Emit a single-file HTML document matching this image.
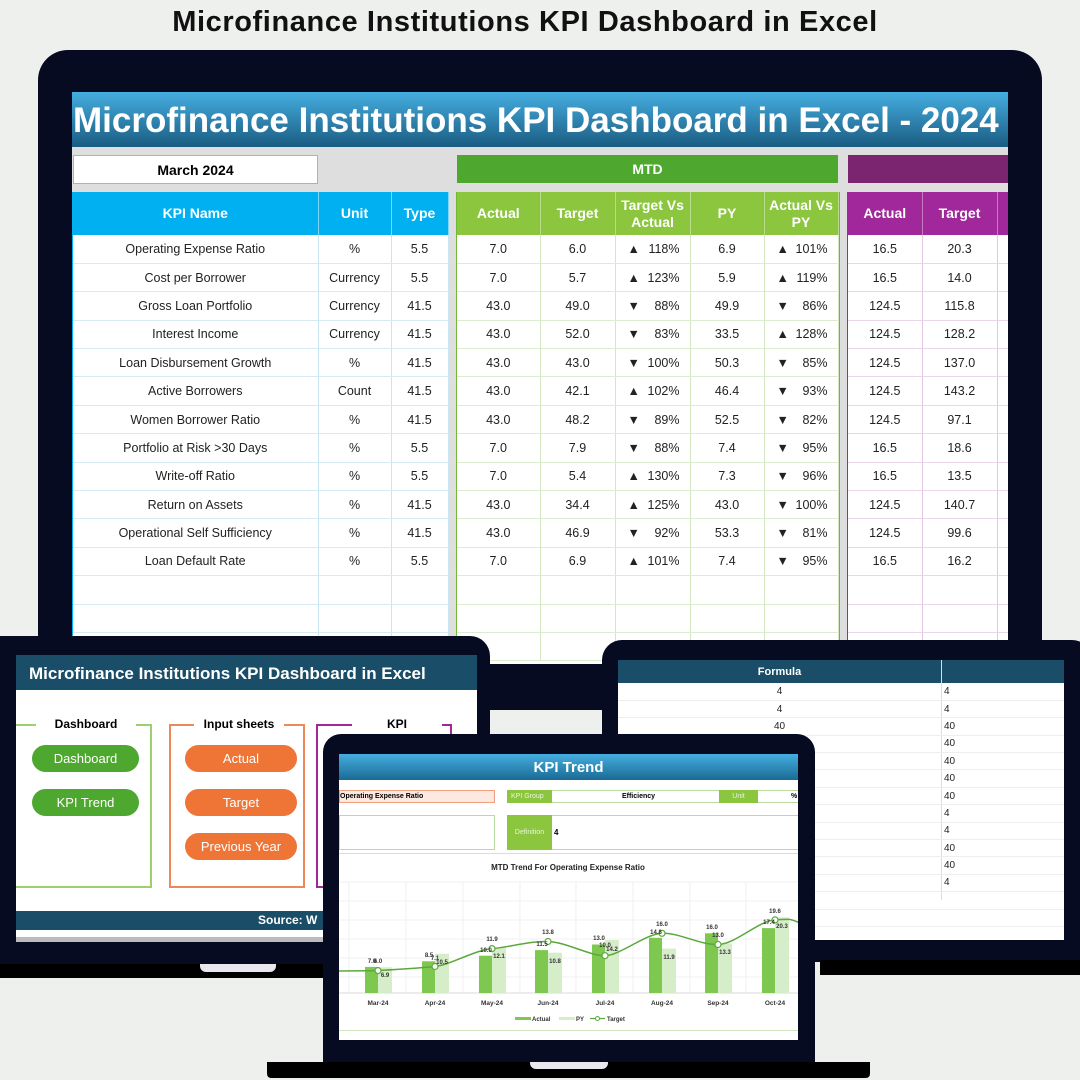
<!DOCTYPE html>
<html><head><meta charset="utf-8">
<style>
*{box-sizing:border-box;margin:0;padding:0}
body{width:1080px;height:1080px;overflow:hidden;background:#eef0ee;font-family:"Liberation Sans",sans-serif;position:relative}
.a{position:absolute}
.c{display:flex;align-items:center;justify-content:center;text-align:center}
.tb{position:absolute;border-collapse:collapse;table-layout:fixed;font-size:12.5px;color:#222}
.tb td{height:28.4px;text-align:center;padding:0;white-space:nowrap}
.tb th{height:43px;color:#fff;font-weight:bold;font-size:14px;line-height:17px}
.blue td{border-right:1px solid #c8e6f2;border-bottom:1px solid #d6ecf5}
.blue th{background:#00b0f0;border-right:1px solid #7fd6f6}
.green td{border-right:1px solid #d2e8c0;border-bottom:1px solid #dcecd0}
.green th{background:#8cc63f;border-right:1px solid #b9dc8c}
.purp td{border-right:1px solid #e4c8e2;border-bottom:1px solid #ead6e8}
.purp th{background:#a0289a;border-right:1px solid #c77cc2}
.ar{display:flex;justify-content:space-between;padding:0 10px 0 12px}
.pill{position:absolute;border-radius:14px;color:#fff;font-size:13px;display:flex;align-items:center;justify-content:center}
.pg{background:#4ea72e}.po{background:#ee7536}
.fr td{font-size:10px;height:17.4px;border-bottom:1px solid #eee}
</style></head><body>
<div class="a c" style="left:0;top:3px;width:1050px;height:38px;font-size:29px;font-weight:bold;color:#111;letter-spacing:0.6px">Microfinance Institutions KPI Dashboard in Excel</div>

<!-- main monitor -->
<div class="a" style="left:38px;top:50px;width:1004px;height:660px;background:#070b22;border-radius:30px"></div>
<div class="a" style="left:72px;top:92px;width:936px;height:572px;background:#fff;overflow:hidden">
 <div class="a" style="left:0;top:0;width:936px;height:55px;background:linear-gradient(#45aee0,#1a5c82);color:#fff;font-weight:bold;font-size:35px;line-height:58px;padding-left:1px;white-space:nowrap">Microfinance Institutions KPI Dashboard in Excel - 2024</div>
 <div class="a" style="left:0;top:55px;width:936px;height:600px;background:#dedede"></div>
 <div class="a c" style="left:1px;top:63px;width:245px;height:29px;background:#fff;border:1px solid #e8a07a;font-weight:bold;font-size:14px">March 2024</div>
 <div class="a c" style="left:385px;top:63px;width:381px;height:28px;background:#4ea72e;color:#fff;font-weight:bold;font-size:14px">MTD</div>
 <div class="a" style="left:776px;top:63px;width:160px;height:28px;background:#7b2470"></div>
 <div class="a" style="left:0;top:100px;width:377px;height:480px;background:#fff;border:1px solid #00b0f0"></div>
 <div class="a" style="left:384px;top:100px;width:384px;height:480px;background:#fff;border:1.5px solid #6fb83a"></div>
 <div class="a" style="left:775px;top:100px;width:170px;height:480px;background:#fff;border:1.5px solid #a0289a"></div>
 <table class="tb blue" style="left:1px;top:100px;width:375px"><colgroup><col style="width:245px"><col style="width:73px"><col style="width:57px"></colgroup>
 <tr><th>KPI Name</th><th>Unit</th><th>Type</th></tr>
 <tr><td>Operating Expense Ratio</td><td>%</td><td>5.5</td></tr>
 <tr><td>Cost per Borrower</td><td>Currency</td><td>5.5</td></tr>
 <tr><td>Gross Loan Portfolio</td><td>Currency</td><td>41.5</td></tr>
 <tr><td>Interest Income</td><td>Currency</td><td>41.5</td></tr>
 <tr><td>Loan Disbursement Growth</td><td>%</td><td>41.5</td></tr>
 <tr><td>Active Borrowers</td><td>Count</td><td>41.5</td></tr>
 <tr><td>Women Borrower Ratio</td><td>%</td><td>41.5</td></tr>
 <tr><td>Portfolio at Risk &gt;30 Days</td><td>%</td><td>5.5</td></tr>
 <tr><td>Write-off Ratio</td><td>%</td><td>5.5</td></tr>
 <tr><td>Return on Assets</td><td>%</td><td>41.5</td></tr>
 <tr><td>Operational Self Sufficiency</td><td>%</td><td>41.5</td></tr>
 <tr><td>Loan Default Rate</td><td>%</td><td>5.5</td></tr>
 <tr><td></td><td></td><td></td></tr><tr><td></td><td></td><td></td></tr><tr><td></td><td></td><td></td></tr>
 </table>
 <table class="tb green" style="left:385px;top:100px;width:381px"><colgroup><col style="width:83px"><col style="width:75px"><col style="width:75px"><col style="width:74px"><col style="width:74px"></colgroup>
 <tr><th>Actual</th><th>Target</th><th>Target Vs<br>Actual</th><th>PY</th><th>Actual Vs<br>PY</th></tr>
 <tr><td>7.0</td><td>6.0</td><td><div class="ar"><span>▲</span><span>118%</span></div></td><td>6.9</td><td><div class="ar"><span>▲</span><span>101%</span></div></td></tr>
 <tr><td>7.0</td><td>5.7</td><td><div class="ar"><span>▲</span><span>123%</span></div></td><td>5.9</td><td><div class="ar"><span>▲</span><span>119%</span></div></td></tr>
 <tr><td>43.0</td><td>49.0</td><td><div class="ar"><span>▼</span><span>88%</span></div></td><td>49.9</td><td><div class="ar"><span>▼</span><span>86%</span></div></td></tr>
 <tr><td>43.0</td><td>52.0</td><td><div class="ar"><span>▼</span><span>83%</span></div></td><td>33.5</td><td><div class="ar"><span>▲</span><span>128%</span></div></td></tr>
 <tr><td>43.0</td><td>43.0</td><td><div class="ar"><span>▼</span><span>100%</span></div></td><td>50.3</td><td><div class="ar"><span>▼</span><span>85%</span></div></td></tr>
 <tr><td>43.0</td><td>42.1</td><td><div class="ar"><span>▲</span><span>102%</span></div></td><td>46.4</td><td><div class="ar"><span>▼</span><span>93%</span></div></td></tr>
 <tr><td>43.0</td><td>48.2</td><td><div class="ar"><span>▼</span><span>89%</span></div></td><td>52.5</td><td><div class="ar"><span>▼</span><span>82%</span></div></td></tr>
 <tr><td>7.0</td><td>7.9</td><td><div class="ar"><span>▼</span><span>88%</span></div></td><td>7.4</td><td><div class="ar"><span>▼</span><span>95%</span></div></td></tr>
 <tr><td>7.0</td><td>5.4</td><td><div class="ar"><span>▲</span><span>130%</span></div></td><td>7.3</td><td><div class="ar"><span>▼</span><span>96%</span></div></td></tr>
 <tr><td>43.0</td><td>34.4</td><td><div class="ar"><span>▲</span><span>125%</span></div></td><td>43.0</td><td><div class="ar"><span>▼</span><span>100%</span></div></td></tr>
 <tr><td>43.0</td><td>46.9</td><td><div class="ar"><span>▼</span><span>92%</span></div></td><td>53.3</td><td><div class="ar"><span>▼</span><span>81%</span></div></td></tr>
 <tr><td>7.0</td><td>6.9</td><td><div class="ar"><span>▲</span><span>101%</span></div></td><td>7.4</td><td><div class="ar"><span>▼</span><span>95%</span></div></td></tr>
 <tr><td></td><td></td><td></td><td></td><td></td></tr><tr><td></td><td></td><td></td><td></td><td></td></tr><tr><td></td><td></td><td></td><td></td><td></td></tr>
 </table>
 <table class="tb purp" style="left:776px;top:100px;width:224px"><colgroup><col style="width:74px"><col style="width:75px"><col style="width:75px"></colgroup>
 <tr><th>Actual</th><th>Target</th><th>A</th></tr>
 <tr><td>16.5</td><td>20.3</td><td></td></tr><tr><td>16.5</td><td>14.0</td><td></td></tr><tr><td>124.5</td><td>115.8</td><td></td></tr>
 <tr><td>124.5</td><td>128.2</td><td></td></tr><tr><td>124.5</td><td>137.0</td><td></td></tr><tr><td>124.5</td><td>143.2</td><td></td></tr>
 <tr><td>124.5</td><td>97.1</td><td></td></tr><tr><td>16.5</td><td>18.6</td><td></td></tr><tr><td>16.5</td><td>13.5</td><td></td></tr>
 <tr><td>124.5</td><td>140.7</td><td></td></tr><tr><td>124.5</td><td>99.6</td><td></td></tr><tr><td>16.5</td><td>16.2</td><td></td></tr>
 <tr><td></td><td></td><td></td></tr><tr><td></td><td></td><td></td></tr><tr><td></td><td></td><td></td></tr>
 </table>
</div>

<!-- right laptop -->
<div class="a" style="left:602px;top:640px;width:490px;height:322px;background:#070b22;border-radius:20px"></div>
<div class="a" style="left:820px;top:960px;width:260px;height:15px;background:#000"></div>
<div class="a" style="left:618px;top:660px;width:446px;height:280px;background:#fff;overflow:hidden">
 <div class="a" style="left:0;top:0;width:446px;height:23px;background:#1a4e68"></div>
 <div class="a c" style="left:0;top:0;width:323px;height:23px;color:#fff;font-weight:bold;font-size:11px">Formula</div>
 <div class="a" style="left:323px;top:0;width:1px;height:240px;background:#ddd"></div>
 <table class="tb fr" style="left:0;top:23px;width:446px"><colgroup><col style="width:323px"><col style="width:123px"></colgroup>
 <tr><td>4</td><td style="text-align:left;padding-left:3px">4</td></tr>
 <tr><td>4</td><td style="text-align:left;padding-left:3px">4</td></tr>
 <tr><td>40</td><td style="text-align:left;padding-left:3px">40</td></tr>
 <tr><td>40</td><td style="text-align:left;padding-left:3px">40</td></tr>
 <tr><td>40</td><td style="text-align:left;padding-left:3px">40</td></tr>
 <tr><td>40</td><td style="text-align:left;padding-left:3px">40</td></tr>
 <tr><td>40</td><td style="text-align:left;padding-left:3px">40</td></tr>
 <tr><td>4</td><td style="text-align:left;padding-left:3px">4</td></tr>
 <tr><td>4</td><td style="text-align:left;padding-left:3px">4</td></tr>
 <tr><td>40</td><td style="text-align:left;padding-left:3px">40</td></tr>
 <tr><td>40</td><td style="text-align:left;padding-left:3px">40</td></tr>
 <tr><td>4</td><td style="text-align:left;padding-left:3px">4</td></tr>
 <tr><td></td><td></td></tr><tr><td></td><td></td></tr>
 </table>
</div>

<!-- left laptop -->
<div class="a" style="left:0;top:636px;width:490px;height:330px;background:#070b22;border-radius:0 20px 0 0"></div>
<div class="a" style="left:0;top:964px;width:340px;height:14px;background:#000"></div>
<div class="a" style="left:200px;top:964px;width:76px;height:8px;background:#e8e8ee;border-radius:0 0 6px 6px"></div>
<div class="a" style="left:16px;top:655px;width:461px;height:287px;background:#fff;overflow:hidden">
 <div class="a" style="left:0;top:0;width:461px;height:35px;background:#1a4e68;color:#fff;font-weight:bold;font-size:17px;line-height:38px;padding-left:13px;white-space:nowrap">Microfinance Institutions KPI Dashboard in Excel</div>
 <div class="a" style="left:-2px;top:69px;width:138px;height:164px;border:2px solid #9ccf70"></div>
 <div class="a c" style="left:20px;top:60px;width:100px;height:18px;background:#fff;font-weight:bold;font-size:12px">Dashboard</div>
 <div class="a" style="left:153px;top:69px;width:136px;height:164px;border:2px solid #ea8a5a"></div>
 <div class="a c" style="left:178px;top:60px;width:90px;height:18px;background:#fff;font-weight:bold;font-size:12px">Input sheets</div>
 <div class="a" style="left:300px;top:69px;width:136px;height:164px;border:2px solid #a0289a"></div>
 <div class="a c" style="left:336px;top:60px;width:90px;height:18px;background:#fff;font-weight:bold;font-size:12px">KPI</div>
 <div class="pill pg" style="left:16px;top:90px;width:107px;height:27px">Dashboard</div>
 <div class="pill pg" style="left:16px;top:134px;width:107px;height:27px">KPI Trend</div>
 <div class="pill po" style="left:169px;top:90px;width:112px;height:27px">Actual</div>
 <div class="pill po" style="left:169px;top:134px;width:112px;height:27px">Target</div>
 <div class="pill po" style="left:169px;top:178px;width:112px;height:27px">Previous Year</div>
 <div class="a" style="left:0;top:256px;width:461px;height:19px;background:#1a4e68;color:#fff;font-weight:bold;font-size:12px;line-height:19px;padding-left:242px">Source: W</div>
 <div class="a" style="left:0;top:282px;width:461px;height:5px;background:#bbb"></div>
</div>

<!-- front laptop -->
<div class="a" style="left:323px;top:734px;width:492px;height:330px;background:#070b22;border-radius:18px 18px 0 0"></div>
<div class="a" style="left:267px;top:1062px;width:603px;height:16px;background:#000;border-radius:0 0 4px 4px"></div>
<div class="a" style="left:530px;top:1062px;width:78px;height:7px;background:#e8e8ee;border-radius:0 0 6px 6px"></div>
<div class="a" style="left:339px;top:754px;width:459px;height:286px;background:#fff;overflow:hidden">
 <div class="a c" style="left:0;top:0;width:459px;height:26px;background:linear-gradient(#45aee0,#1a6a94);color:#fff;font-weight:bold;font-size:15px">KPI Trend</div>
 <div class="a" style="left:0;top:36px;width:156px;height:13px;background:#fde9e0;border:1px solid #f0a080;font-size:7px;font-weight:bold;line-height:11px">Operating Expense Ratio</div>
 <div class="a" style="left:168px;top:36px;width:218px;height:13px;border:1px solid #b8dca0"></div>
 <div class="a" style="left:168px;top:36px;width:45px;height:13px;background:#8cc63f;color:#e8f6d8;font-size:7px;line-height:13px;padding-left:4px">KPI Group</div>
 <div class="a c" style="left:213px;top:36px;width:173px;height:13px;font-size:7px;font-weight:bold">Efficiency</div>
 <div class="a" style="left:380px;top:36px;width:90px;height:13px;border:1px solid #b8dca0"></div>
 <div class="a c" style="left:380px;top:36px;width:39px;height:13px;background:#8cc63f;color:#e8f6d8;font-size:7px">Unit</div>
 <div class="a" style="left:452px;top:36px;font-size:7px;font-weight:bold;line-height:13px">%</div>
 <div class="a" style="left:0;top:61px;width:156px;height:35px;border:1px solid #b8dca0"></div>
 <div class="a" style="left:168px;top:61px;width:300px;height:35px;border:1px solid #b8dca0"></div>
 <div class="a c" style="left:168px;top:61px;width:45px;height:35px;background:#8cc63f;color:#e8f6d8;font-size:7px">Definition</div>
 <div class="a" style="left:215px;top:61px;font-size:8px;font-weight:bold;line-height:35px">4</div>
 <div class="a" style="left:0;top:99px;width:459px;height:1px;background:#cfe6bf"></div>
 <div class="a" style="left:0;top:276px;width:459px;height:1px;background:#cfe6bf"></div>
</div>
<svg class="a" style="left:0;top:0" width="1080" height="1080" viewBox="0 0 1080 1080">
 <defs><clipPath id="cp"><rect x="339" y="754" width="459" height="286"/></clipPath></defs>
 <g clip-path="url(#cp)" font-family="Liberation Sans, sans-serif">
  <text x="568" y="870" font-size="8" font-weight="bold" text-anchor="middle" fill="#222">MTD Trend For Operating Expense Ratio</text>
  <g stroke="#ececec" stroke-width="0.8">
   <line x1="339" y1="882" x2="798" y2="882"/><line x1="339" y1="901" x2="798" y2="901"/><line x1="339" y1="920" x2="798" y2="920"/><line x1="339" y1="939" x2="798" y2="939"/><line x1="339" y1="958" x2="798" y2="958"/><line x1="339" y1="977" x2="798" y2="977"/>
   <line x1="349" y1="882" x2="349" y2="993"/><line x1="406" y1="882" x2="406" y2="993"/><line x1="463" y1="882" x2="463" y2="993"/><line x1="520" y1="882" x2="520" y2="993"/><line x1="576" y1="882" x2="576" y2="993"/><line x1="633" y1="882" x2="633" y2="993"/><line x1="690" y1="882" x2="690" y2="993"/><line x1="746" y1="882" x2="746" y2="993"/>
  </g>
  <line x1="339" y1="993" x2="798" y2="993" stroke="#d8d8d8"/>
  <g fill="#7ec850">
   <rect x="365" y="966.9" width="13" height="26.1"/><rect x="422" y="961.3" width="13" height="31.7"/><rect x="479" y="955.7" width="13" height="37.3"/><rect x="535" y="950.1" width="13" height="42.9"/><rect x="592" y="944.5" width="13" height="48.5"/><rect x="649" y="937.8" width="13" height="55.2"/><rect x="705" y="933.3" width="13" height="59.7"/><rect x="762" y="928.1" width="13" height="64.9"/>
  </g>
  <g fill="#d6edc9">
   <rect x="378" y="967.3" width="14" height="25.7"/><rect x="435" y="953.8" width="14" height="39.2"/><rect x="492" y="947.9" width="14" height="45.1"/><rect x="548" y="952.7" width="14" height="40.3"/><rect x="605" y="940" width="14" height="53"/><rect x="662" y="948.6" width="14" height="44.4"/><rect x="718" y="943.4" width="14" height="49.6"/><rect x="775" y="917.3" width="14" height="75.7"/>
  </g>
  <path d="M339,971 L378,970.6 S420,968 435,966.5 S475,950 492,948.6 S530,941 548,941.5 S590,956 605,955.7 S645,934 662,933.3 S700,945 718,944.5 S758,921 775,919.9 S790,919 800,923" fill="none" stroke="#5aa83c" stroke-width="1.5"/>
  <g fill="#fff" stroke="#5aa83c" stroke-width="1.2">
   <circle cx="378" cy="970.6" r="3"/><circle cx="435" cy="966.5" r="3"/><circle cx="492" cy="948.6" r="3"/><circle cx="548" cy="941.5" r="3"/><circle cx="605" cy="955.7" r="3"/><circle cx="662" cy="933.3" r="3"/><circle cx="718" cy="944.5" r="3"/><circle cx="775" cy="919.9" r="3"/>
  </g>
  <g font-size="6" font-weight="bold" fill="#333" text-anchor="middle">
   <text x="372" y="963">7.0</text><text x="429" y="957">8.5</text><text x="486" y="952">10.0</text><text x="542" y="946">11.5</text><text x="599" y="940">13.0</text><text x="656" y="934">14.8</text><text x="712" y="929">16.0</text><text x="769" y="924">17.4</text>
   <text x="385" y="977">6.9</text><text x="442" y="964">10.5</text><text x="499" y="958">12.1</text><text x="555" y="963">10.8</text><text x="612" y="951">14.2</text><text x="669" y="959">11.9</text><text x="725" y="954">13.3</text><text x="782" y="928">20.3</text>
   <text x="378" y="963">6.0</text><text x="435" y="960">7.1</text><text x="492" y="941">11.9</text><text x="548" y="934">13.8</text><text x="605" y="947">10.0</text><text x="662" y="926">16.0</text><text x="718" y="937">13.0</text><text x="775" y="913">19.6</text>
   <g font-size="6.5"><text x="378" y="1005">Mar-24</text><text x="435" y="1005">Apr-24</text><text x="492" y="1005">May-24</text><text x="548" y="1005">Jun-24</text><text x="605" y="1005">Jul-24</text><text x="662" y="1005">Aug-24</text><text x="718" y="1005">Sep-24</text><text x="775" y="1005">Oct-24</text></g>
  </g>
  <rect x="515" y="1017" width="16" height="3" fill="#7ec850"/><text x="532" y="1021" font-size="6" font-weight="bold" fill="#333">Actual</text>
  <rect x="559" y="1017" width="16" height="3" fill="#d6edc9"/><text x="576" y="1021" font-size="6" font-weight="bold" fill="#333">PY</text>
  <line x1="590" y1="1018.5" x2="605" y2="1018.5" stroke="#5aa83c" stroke-width="1.2"/><circle cx="597.5" cy="1018.5" r="2" fill="#fff" stroke="#5aa83c"/><text x="607" y="1021" font-size="6" font-weight="bold" fill="#333">Target</text>
 </g>
</svg>
</body></html>
